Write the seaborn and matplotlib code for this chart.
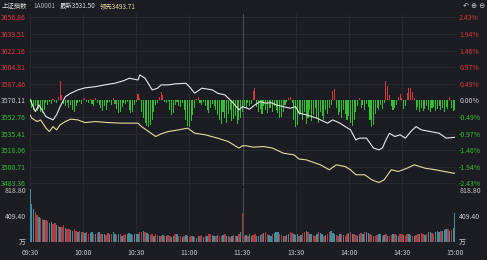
import numpy as np
import pandas as pd
import matplotlib
matplotlib.use("Agg")
import matplotlib.pyplot as plt
import seaborn as sns

# ---------------- data ----------------
prev_close = 3570.11
price_ticks = [3483.36, 3500.71, 3518.06, 3535.41, 3552.76, 3570.11,
               3587.46, 3604.81, 3622.16, 3639.51, 3656.86]
pct_labels = ["-2.43%", "-1.94%", "-1.46%", "-0.97%", "-0.49%", "0.00%",
              "0.49%", "0.97%", "1.46%", "1.94%", "2.43%"]
time_ticks = [0, 30, 60, 90, 120, 150, 180, 210, 240]
time_labels = ["09:30", "10:00", "10:30", "11:00", "11:30", "13:30", "14:00", "14:30", "15:00"]
vol_ticks = [0, 409.40, 818.80]
vol_tick_labels = ["万", "409.40", "818.80"]

price_min = [0, 3, 5, 9, 13, 15, 17, 20, 23, 27, 31, 37, 42, 48, 53, 56, 61, 62, 65, 69,
             72, 74, 78, 82, 88, 90, 93, 97, 103, 106, 110, 114, 118, 120, 124, 127, 130, 133, 136, 139,
             143, 147, 150, 152, 156, 162, 168, 171, 175, 178, 181, 184, 186, 190, 194, 197, 199, 201, 203, 206,
             209, 212, 215, 218, 221, 226, 231, 235, 240]
price_val = [3571.4, 3558.4, 3565.4, 3553.2, 3549.7, 3555.0, 3563.6, 3574.1, 3577.6, 3581.1,
             3583.2, 3584.5, 3586.3, 3588.1, 3590.8, 3593.3, 3591.5, 3596.8, 3593.3, 3581.1,
             3582.9, 3586.3, 3586.3, 3587.4, 3588.1, 3584.5, 3577.6, 3582.9, 3581.1, 3577.6,
             3575.9, 3568.9, 3560.2, 3563.6, 3560.9, 3565.4, 3568.9, 3567.2, 3567.8, 3565.4,
             3563.6, 3561.9, 3563.6, 3556.7, 3555.0, 3551.5, 3546.3, 3549.7, 3546.3, 3542.7,
             3539.3, 3528.8, 3530.6, 3530.6, 3520.2, 3518.4, 3520.2, 3528.8, 3535.8, 3532.3,
             3534.1, 3530.6, 3537.5, 3542.7, 3539.3, 3537.5, 3535.8, 3530.6, 3531.5]

lead_min = [0, 1, 4, 6, 9, 11, 13, 15, 17, 20, 23, 27, 31, 37, 44, 52, 61, 63, 67, 71,
            74, 78, 84, 89, 93, 99, 106, 112, 118, 120, 122, 126, 132, 137, 143, 149, 152, 156, 164, 169,
            173, 178, 181, 184, 189, 193, 197, 200, 204, 208, 213, 217, 223, 229, 234, 240]
lead_val = [3555.0, 3551.5, 3548.0, 3549.7, 3541.1, 3537.5, 3542.7, 3539.3, 3544.5, 3548.0,
            3550.5, 3549.7, 3546.9, 3548.0, 3546.9, 3546.3, 3546.3, 3542.7, 3537.5, 3532.3,
            3535.1, 3537.5, 3539.3, 3541.1, 3535.8, 3534.1, 3530.6, 3527.0, 3520.2, 3522.6,
            3522.6, 3521.2, 3521.8, 3520.2, 3514.9, 3513.2, 3508.7, 3507.9, 3502.7, 3497.5,
            3502.7, 3500.9, 3497.5, 3492.3, 3492.3, 3487.0, 3484.2, 3487.0, 3497.5, 3495.7,
            3499.2, 3502.7, 3499.2, 3497.5, 3495.7, 3493.7]

# red / green strength bars around previous close (points)
breadth = [-2, -8, -10, -6, -11, -9, -12, -13, -10,
           -3, -5, -2, -4, 1, -2, -3, 4,
           20, 6,
           -4, -6, -3, -8, -5, -10, -12, -6, -3, -2, -4, 1,
           2, -2, -3, 1, -4, -6, 2, -3, -5,
           -8, -11, -6, -10, -3, -2, -5, 2, -4,
           -9, -13, -12, -7, -3, -4, -2,
           -10, -13, -12, -5, -2, 7, 3,
           -12, -18, -24, -27, -28, -26, -20, -12,
           -5, -3, 4, 9, 6,
           -2, -3, -1,
           -10, -15, -13, -5,
           -2, -6, -7, -3,
           -10, -20, -27, -28, -22, -15, -8,
           1, 4, -3, -5, -2,
           -6, -10, -13, -8, -4, -6,
           -10, -15, -20, -25, -12, -18, -24, -14, -10, -22, -19, -16, -25, -20,
           -18, -12, -6, -8, -3, -6, -4,
           10, 13,
           -7, -12, -9, -14, -6, -10, -13, -8,
           -8, -12, -6, -10, -13,
           -18, -17, -12, -5,
           -2, 3, 4, -3,
           -20, -28, -26, -15,
           -14, -20, -12, -25, -18, -10, -22, -15, -8, -18, -24, -12, -16, -20, -10, -14, -8, -5,
           10, 12,
           -8, -15, -12, -18, -10, -14, -20, -16,
           -24, -27, -20, -12,
           -6, 3, -8, -5, -10, -4, -7,
           -20, -28, -26, -14,
           -8, -10, -5, -9, -3,
           20, 15,
           6, -6, -10, -8, -5, 4,
           7, 3,
           -9, -6,
           8, 13, 13, 9, 3,
           -10, -7, -12, -8, -11, -9, -6, -10, -12, -8, -7, -11, -9, -6, -10, -8, -12, -7, -9, 4, -8, -11, -10]

volume = [830,
          600, 520, 480,
          420, 400, 380, 360, 350,
          340, 330, 300, 320, 280, 300, 260,
          250, 240, 230, 260, 220, 200, 210, 190, 180, 200,
          170, 160, 180, 150, 160, 140, 150, 130, 140, 160, 130, 120, 140, 150, 130,
          120, 130, 110, 140, 120, 130, 150, 120, 110, 130, 120, 100, 110, 130, 120, 140, 120, 110, 130, 120,
          130, 150, 160, 170, 150, 140, 120, 110, 130, 100, 120, 110, 100, 90, 110,
          100, 90, 110, 95, 80, 100, 120, 130, 100, 90, 80, 100, 110, 90, 85, 100, 95, 80, 70, 90,
          100, 110, 80, 90, 100, 120, 130, 110, 90, 100, 115, 95, 100, 110, 120, 100, 90, 80, 100, 110,
          95, 100, 130, 150,
          450,
          100, 110, 90, 120, 100, 110, 130, 100, 90, 110, 120, 140, 150, 130, 110, 100, 120, 140, 160, 150,
          130, 110, 100, 90, 110, 130, 150, 140, 120, 110,
          120, 100, 110, 140, 160, 180, 150, 130, 120, 110, 100, 130, 150, 140, 120, 100, 110, 130, 150, 170,
          140, 120, 110, 100, 120, 130, 110, 100, 120, 140,
          150, 130, 120, 110, 100, 120, 140, 130, 150, 160, 140, 120, 110, 100, 90, 110, 130, 120, 100, 110,
          120, 100, 90, 110, 120, 130, 110, 100, 120, 130,
          110, 100, 120, 130, 110, 100, 90, 110, 120, 130, 140, 120, 110, 130, 150, 160, 140, 130, 150, 170,
          160, 180, 170, 190, 200, 210, 180, 190, 220, 460]

vol_dir = ("tttrrtrrtr" "rttrrtrtrr" "trrttrrtrt" "rtrrttrtrt" "rttrrtrttr" "trtrrtttrt"
           "ttrrtrttrr" "trrtrtrtrr" "ttrtrrtrtt" "rrtrttrrtr" "trrttrtrrt" "rttrtrrtrt"
           "rrtrttrrtt" "trtrrttrtt" "trrtrttrrt" "ttrtrrtrtt" "rrtrttrtrr" "tttrrtrtrr"
           "trtrrttrtr" "ttrrtrrttr" "trtrrtrttr" "rtrrttrtrr" "trrtrttrrt" "ttrtttrtrt" "t")

assert len(breadth) == 241 and len(volume) == 241 and len(vol_dir) == 241

# ---------------- style ----------------
BG = "#1c1d22"
GRID = "#2c2d33"
RED = "#d8383c"
GREEN = "#35bd35"
NEUTRAL = "#c8c8c8"
WHITE_LINE = "#e8e8e8"
YELLOW_LINE = "#e4dca0"
VOL_RED = "#b8393d"
VOL_TEAL = "#3f8e9b"

sns.set_theme(style="dark", rc={"axes.facecolor": BG, "figure.facecolor": BG})
plt.rcParams["font.family"] = ["Noto Sans CJK SC", "DejaVu Sans"]
FS = 5

fig = plt.figure(figsize=(4.87, 2.60), dpi=100)
W, H = 487, 260
x0, x1 = 30, 455


def rect(top, bottom):
    return [x0 / W, 1 - bottom / H, (x1 - x0) / W, (bottom - top) / H]


def sign_color(v):
    return RED if v > 0.01 else (GREEN if v < -0.01 else NEUTRAL)


ylo, yhi = 3480.53, 3660.52

# breadth axis (bottom layer) -- in points relative to previous close
ax_ad = fig.add_axes(rect(14, 186))
ax_ad.set_facecolor(BG)
minutes = np.arange(241)
df_ad = pd.DataFrame({"m": minutes, "v": breadth})
df_ad["dir"] = np.where(df_ad["v"] >= 0, "up", "down")
sns.barplot(data=df_ad, x="m", y="v", hue="dir", palette={"up": RED, "down": GREEN},
            native_scale=True, width=0.6, dodge=False, errorbar=None, legend=False,
            saturation=1, linewidth=0, ax=ax_ad)

# price axis (lines on top)
ax_p = ax_ad.twinx()
sns.lineplot(x=lead_min, y=lead_val, ax=ax_p, color=YELLOW_LINE, linewidth=0.8)
sns.lineplot(x=price_min, y=price_val, ax=ax_p, color=WHITE_LINE, linewidth=0.8)

# configure breadth axis: percentage labels on the right
ax_ad.set_xlim(0, 240)
ax_ad.set_ylim(ylo - prev_close, yhi - prev_close)
ax_ad.set_xticks(time_ticks)
ax_ad.set_xticklabels([])
deltas = [p - prev_close for p in price_ticks]
ax_ad.set_yticks(deltas)
ax_ad.set_yticklabels(pct_labels)
ax_ad.tick_params(axis="y", left=False, right=False, labelleft=False, labelright=True,
                  labelsize=FS, pad=3, length=0)
ax_ad.tick_params(axis="x", length=0, labelbottom=False)
ax_ad.grid(True, color=GRID, linewidth=0.6)
ax_ad.axvline(120, color="#4c4d54", linewidth=0.8)
ax_ad.set_xlabel("")
ax_ad.set_ylabel("")
for t, d in zip(ax_ad.yaxis.get_major_ticks(), deltas):
    t.label1.set_color(sign_color(d))
    t.label2.set_color(sign_color(d))
for s in ax_ad.spines.values():
    s.set_visible(False)

# configure price axis: price labels on the left
ax_p.set_xlim(0, 240)
ax_p.set_ylim(ylo, yhi)
ax_p.set_yticks(price_ticks)
ax_p.set_yticklabels([f"{p:.2f}" for p in price_ticks])
ax_p.tick_params(axis="y", left=False, right=False, labelleft=True, labelright=False,
                 labelsize=FS, pad=3, length=0)
ax_p.tick_params(axis="x", length=0, labelbottom=False)
ax_p.grid(False)
ax_p.set_xlabel("")
ax_p.set_ylabel("")
for t, p in zip(ax_p.yaxis.get_major_ticks(), price_ticks):
    t.label1.set_color(sign_color(p - prev_close))
    t.label2.set_color(sign_color(p - prev_close))
for s in ax_p.spines.values():
    s.set_visible(False)

# volume axis
ax_v = fig.add_axes(rect(188, 243))
ax_v.set_facecolor(BG)
df_v = pd.DataFrame({"m": minutes, "vol": volume, "c": list(vol_dir)})
sns.barplot(data=df_v, x="m", y="vol", hue="c", palette={"r": VOL_RED, "t": VOL_TEAL},
            native_scale=True, width=0.8, dodge=False, errorbar=None, legend=False,
            saturation=1, linewidth=0, ax=ax_v)
ax_v.set_xlim(0, 240)
ax_v.set_ylim(-15.7, 850.3)
ax_v.set_xticks(time_ticks)
ax_v.set_xticklabels(time_labels)
ax_v.set_yticks(vol_ticks)
ax_v.set_yticklabels(vol_tick_labels)
ax_v.tick_params(axis="y", length=0, labelsize=FS, pad=3, labelleft=True, labelright=True,
                 colors=NEUTRAL)
ax_v.tick_params(axis="x", length=0, labelsize=FS, pad=4, colors=NEUTRAL)
ax_v.grid(True, axis="x", color=GRID, linewidth=0.6)
ax_v.grid(False, axis="y")
ax_v.axvline(120, color="#4c4d54", linewidth=0.8)
ax_v.set_xlabel("")
ax_v.set_ylabel("")
for s in ax_v.spines.values():
    s.set_visible(False)

# header
hy = 1 - 6 / H
HFS = 4.6
fig.text(2 / W, hy, "上证指数", color="#e0e0e0", fontsize=HFS, va="center", ha="left")
fig.text(33 / W, hy, "1A0001", color="#b0b0b0", fontsize=HFS, va="center", ha="left")
fig.text(60 / W, hy, "最新3531.50", color="#e0e0e0", fontsize=HFS, va="center", ha="left")
fig.text(100 / W, hy, "领先3493.71", color=YELLOW_LINE, fontsize=HFS, va="center", ha="left")
fig.text(485 / W, hy, "↶ ⊕ ⊖", color="#d0d0d0", fontsize=FS, va="center", ha="right",
         family=["DejaVu Sans"])

fig.savefig("out.png", dpi=100, facecolor=BG)
